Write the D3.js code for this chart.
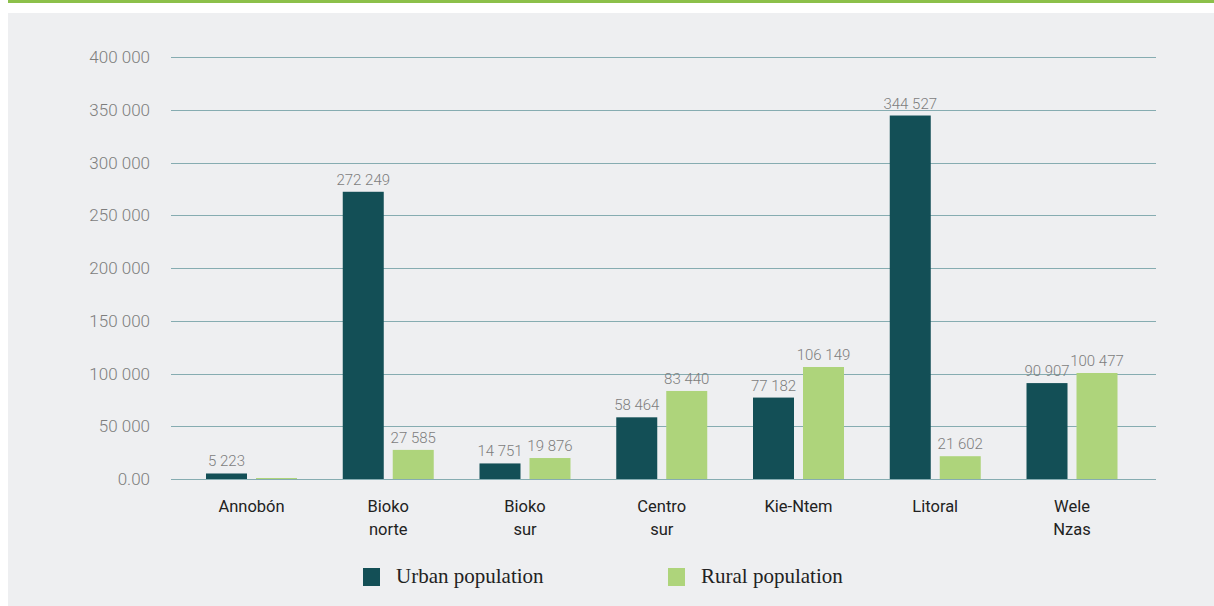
<!DOCTYPE html>
<html>
<head>
<meta charset="utf-8">
<script src="https://cdn.jsdelivr.net/npm/d3@7"></script>
<style>
  body { margin: 0; background: #fff; }
  svg { display: block; }
</style>
</head>
<body>
<svg id="chart" width="1214" height="606"></svg>
<script>
const regions = [["Annobón"], ["Bioko", "norte"], ["Bioko", "sur"], ["Centro", "sur"], ["Kie-Ntem"], ["Litoral"], ["Wele", "Nzas"]];
const urban = [5223, 272249, 14751, 58464, 77182, 344527, 90907];
const rural = [800, 27585, 19876, 83440, 106149, 21602, 100477];
const yTicks = [0, 50000, 100000, 150000, 200000, 250000, 300000, 350000, 400000];
const seriesNames = ["Urban population", "Rural population"];
const colors = ["#134f56", "#aed47b"];

const svg = d3.select("#chart");

// top green rule and grey panel
svg.append("rect").attr("x", 8).attr("y", 0).attr("width", 1206).attr("height", 3).attr("fill", "#8cc04a");
svg.append("rect").attr("x", 8).attr("y", 13).attr("width", 1206).attr("height", 593).attr("fill", "#eeeff1");

const fmt = v => d3.format(",")(v).replace(/,/g, " ");

const y = d3.scaleLinear().domain([0, 400000]).range([479, 57]);
const x = d3.scaleBand().domain(d3.range(regions.length)).range([206, 1117.5]).paddingInner(0.3346).paddingOuter(0);
const xs = d3.scaleBand().domain([0, 1]).range([0, x.bandwidth()]).paddingInner(0.18);

// gridlines
svg.append("g").selectAll("line").data(yTicks).enter().append("line")
    .attr("x1", 171).attr("x2", 1156)
    .attr("y1", d => Math.round(y(d)) + 0.5).attr("y2", d => Math.round(y(d)) + 0.5)
    .attr("stroke", "#86acb1").attr("stroke-width", 1.2);

// y labels
svg.append("g").selectAll("text").data(yTicks).enter().append("text")
    .attr("x", 150).attr("y", d => y(d) + 6)
    .attr("text-anchor", "end")
    .attr("font-family", "Roboto").attr("font-weight", 300)
    .attr("font-size", "17px").attr("fill", "#7d7d7d")
    .text(d => d === 0 ? "0.00" : fmt(d));

const rows = regions.map((r, i) => ({ i: i, label: r, values: [urban[i], rural[i]] }));

const groups = svg.append("g").selectAll("g").data(rows).enter().append("g")
    .attr("transform", d => `translate(${x(d.i)},0)`);

[0, 1].forEach(s => {
    groups.append("rect")
        .attr("x", xs(s))
        .attr("width", xs.bandwidth())
        .attr("y", d => Math.min(y(d.values[s]), 478))
        .attr("height", d => Math.max(1, y(0) - y(d.values[s])))
        .attr("fill", colors[s]);

    // Annobón rural value is not labelled in the source
    groups.filter(d => !(s === 1 && d.i === 0)).append("text")
        .attr("x", xs(s) + xs.bandwidth() / 2)
        .attr("y", d => y(d.values[s]) - 7)
        .attr("text-anchor", "middle")
        .attr("font-family", "Roboto").attr("font-weight", 300)
        .attr("font-size", "15px").attr("fill", "#7d7d7d")
        .text(d => fmt(d.values[s]));
});

// category labels
groups.append("text")
    .attr("x", x.bandwidth() / 2)
    .attr("y", 512)
    .attr("text-anchor", "middle")
    .attr("font-family", "Roboto")
    .attr("font-size", "16.5px").attr("fill", "#222")
    .selectAll("tspan").data(d => d.label).enter().append("tspan")
    .attr("x", x.bandwidth() / 2)
    .attr("dy", (d, i) => i === 0 ? 0 : 23)
    .text(d => d);

// legend
const legendX = [363, 668];
seriesNames.forEach((name, s) => {
    svg.append("rect").attr("x", legendX[s]).attr("y", 568).attr("width", 17).attr("height", 18).attr("fill", colors[s]);
    svg.append("text").attr("x", legendX[s] + 33).attr("y", 583)
        .attr("font-family", "Liberation Serif").attr("font-size", "21px").attr("fill", "#222")
        .text(name);
});
</script>
</body>
</html>
